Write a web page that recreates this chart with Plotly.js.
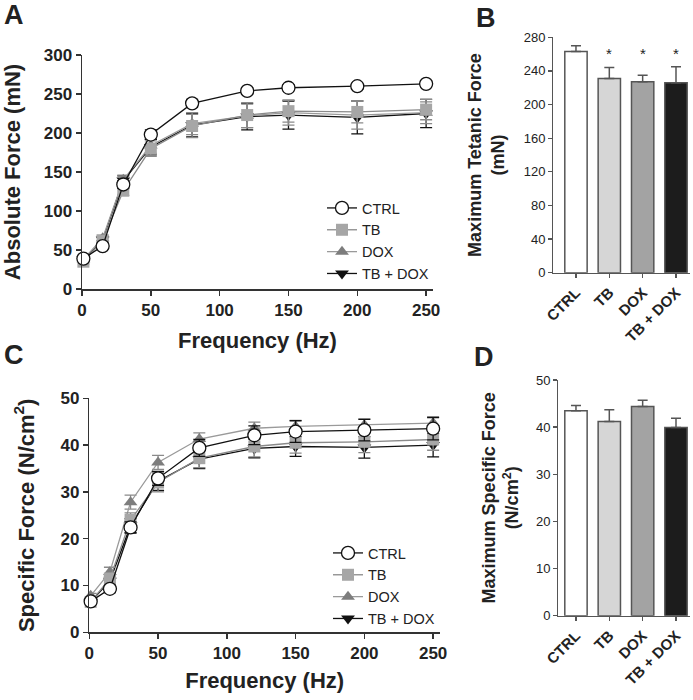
<!DOCTYPE html>
<html>
<head>
<meta charset="utf-8">
<script src="https://cdn.plot.ly/plotly-3.0.1.min.js"></script>
<style>html,body{margin:0;padding:0;background:#fff}#chart{width:693px;height:700px}</style>
</head>
<body>
<div id="chart"></div>
<script>
// ---- Data ----
const freq = [1, 15, 30, 50, 80, 120, 150, 200, 250];
const groupNames = ["CTRL", "TB", "DOX", "TB + DOX"];

// Panel A: absolute force (mN)
const ctrlAbs  = [39, 55, 134, 198, 238, 254, 258, 260, 263];
const tbAbs    = [35, 62, 126, 180, 209, 223, 228, 227, 230];
const doxAbs   = [38, 65, 140, 184, 212, 222, 226, 223, 226];
const tbdoxAbs = [38, 63, 139, 182, 210, 221, 223, 220, 225];
const ctrlAbsErr  = [3, 3, 5, 6, 5, 4, 4, 4, 4];
const tbAbsErr    = [3, 4, 6, 10, 15, 16, 14, 14, 13];
const doxAbsErr   = [3, 4, 6, 10, 14, 15, 16, 18, 14];
const tbdoxAbsErr = [3, 4, 6, 10, 15, 17, 18, 21, 18];

// Panel C: specific force (N/cm2)
const ctrlSpec  = [6.6, 9.3, 22.4, 32.9, 39.4, 42.1, 42.9, 43.2, 43.5];
const tbSpec    = [6.5, 11.5, 24.0, 32.0, 37.2, 39.7, 40.5, 40.7, 41.2];
const doxSpec   = [7.8, 12.9, 27.8, 36.3, 41.3, 43.6, 44.0, 44.3, 44.7];
const tbdoxSpec = [6.5, 11.0, 22.8, 32.3, 37.0, 39.3, 39.7, 39.5, 40.0];
const ctrlSpecErr  = [0.5, 0.8, 1.2, 1.5, 1.8, 2.0, 2.3, 2.3, 2.4];
const tbSpecErr    = [0.5, 1.0, 1.5, 2.0, 2.0, 2.2, 2.2, 2.3, 2.3];
const doxSpecErr   = [0.5, 1.0, 1.5, 1.5, 1.3, 1.3, 1.3, 1.3, 1.3];
const tbdoxSpecErr = [0.5, 1.0, 1.5, 2.0, 2.0, 2.0, 2.1, 2.3, 2.5];

// Panel B: maximum tetanic force (mN)
const maxTet    = [263, 231, 227, 226];
const maxTetErr = [7, 13, 8, 19];
const sigMark   = ["", "*", "*", "*"];

// Panel D: maximum specific force (N/cm2)
const maxSpec    = [43.5, 41.2, 44.4, 39.9];
const maxSpecErr = [1.1, 2.5, 1.3, 2.0];

// ---- Styles ----
const W = 693, H = 700;
const px = v => v / W;
const py = v => 1 - v / H;
const FONT = "Liberation Sans, Arial, sans-serif";
const INK = "#222";

const styles = [
  {name: "CTRL", line: "#111", marker: {symbol: "circle", size: 13, color: "#fff", line: {color: "#111", width: 1.3}}, err: "#111", rank: 1},
  {name: "TB", line: "#8a8a8a", marker: {symbol: "square", size: 12, color: "#a6a6a6", line: {width: 0}}, err: "#8a8a8a", rank: 2},
  {name: "DOX", line: "#9a9a9a", marker: {symbol: "triangle-up", size: 12, color: "#7d7d7d", line: {width: 0}}, err: "#8a8a8a", rank: 3},
  {name: "TB + DOX", line: "#111", marker: {symbol: "triangle-down", size: 12, color: "#111", line: {width: 0}}, err: "#111", rank: 4}
];

function lineTraces(ys, errs, xa, ya, legendId) {
  const out = [];
  // draw in reverse so CTRL is on top
  for (let i = 3; i >= 0; i--) {
    const s = styles[i];
    out.push({
      type: "scatter", mode: "lines+markers",
      x: freq, y: ys[i], name: s.name,
      xaxis: xa, yaxis: ya, legend: legendId, legendrank: s.rank,
      line: {color: s.line, width: 1.3},
      marker: s.marker,
      error_y: {type: "data", array: errs[i], visible: true, color: s.err, thickness: 1.3, width: 6},
      cliponaxis: false
    });
  }
  return out;
}

const barColors = ["#ffffff", "#d6d6d6", "#a3a3a3", "#1c1c1c"];

const data = [
  ...lineTraces([ctrlAbs, tbAbs, doxAbs, tbdoxAbs], [ctrlAbsErr, tbAbsErr, doxAbsErr, tbdoxAbsErr], "x", "y", "legend"),
  {
    type: "bar", x: groupNames, y: maxTet, xaxis: "x2", yaxis: "y2", showlegend: false,
    width: 0.67,
    marker: {color: barColors, line: {color: "#555", width: 1.5}},
    error_y: {type: "data", symmetric: false, array: maxTetErr, arrayminus: [0,0,0,0], color: "#555", thickness: 1.5, width: 5}
  },
  ...lineTraces([ctrlSpec, tbSpec, doxSpec, tbdoxSpec], [ctrlSpecErr, tbSpecErr, doxSpecErr, tbdoxSpecErr], "x3", "y3", "legend2"),
  {
    type: "bar", x: groupNames, y: maxSpec, xaxis: "x4", yaxis: "y4", showlegend: false,
    width: 0.67,
    marker: {color: barColors, line: {color: "#555", width: 1.5}},
    error_y: {type: "data", symmetric: false, array: maxSpecErr, arrayminus: [0,0,0,0], color: "#555", thickness: 1.5, width: 5}
  }
];

const boldTick = {family: FONT, size: 17, color: INK, weight: "bold"};
const lineAxisCommon = {
  showgrid: false, zeroline: false, showline: true, linecolor: "#333", linewidth: 1.5,
  ticks: "outside", ticklen: 5, tickwidth: 1.5, tickcolor: "#333", tickfont: boldTick
};
const barAxisCommon = {
  showgrid: false, zeroline: false, showline: true, linecolor: "#555", linewidth: 1.3,
  ticks: "outside", ticklen: 4, tickwidth: 1.3, tickcolor: "#555"
};
const bigTitle = {family: FONT, size: 22, weight: "bold", color: INK};
const barTitle = {family: FONT, size: 18, weight: "bold", color: INK};
const catFont = {family: FONT, size: 15, weight: "bold", color: INK};
const numFont = {family: FONT, size: 13, color: INK};
const letterFont = {family: FONT, size: 27, weight: "bold", color: INK};

const layout = {
  width: W, height: H,
  margin: {l: 0, r: 0, t: 0, b: 0},
  paper_bgcolor: "#fff", plot_bgcolor: "rgba(0,0,0,0)",
  font: {family: FONT, color: INK},
  showlegend: true,
  // Panel A
  xaxis: Object.assign({}, lineAxisCommon, {
    domain: [px(82), px(433)], range: [0, 255], anchor: "y",
    tickvals: [0, 50, 100, 150, 200, 250],
    title: {text: "Frequency (Hz)", font: bigTitle, standoff: 13}
  }),
  yaxis: Object.assign({}, lineAxisCommon, {
    domain: [py(289), py(55)], range: [0, 300], anchor: "x",
    tickvals: [0, 50, 100, 150, 200, 250, 300],
    title: {text: "Absolute Force (mN)", font: bigTitle, standoff: 20}
  }),
  // Panel B
  xaxis2: Object.assign({}, barAxisCommon, {
    domain: [px(553.3), px(690)], range: [-0.68, 3.42], anchor: "y2",
    tickangle: -45, tickfont: catFont
  }),
  yaxis2: Object.assign({}, barAxisCommon, {
    domain: [py(272.7), py(37.3)], range: [0, 280], anchor: "x2",
    tickvals: [0, 40, 80, 120, 160, 200, 240, 280],
    tickfont: numFont,
    title: {text: "Maximum Tetanic Force<br>(mN)", font: barTitle, standoff: 14}
  }),
  // Panel C
  xaxis3: Object.assign({}, lineAxisCommon, {
    domain: [px(89.3), px(440)], range: [0, 255], anchor: "y3",
    tickvals: [0, 50, 100, 150, 200, 250],
    title: {text: "Frequency (Hz)", font: bigTitle, standoff: 10}
  }),
  yaxis3: Object.assign({}, lineAxisCommon, {
    domain: [py(632.3), py(398.3)], range: [0, 50], anchor: "x3",
    tickvals: [0, 10, 20, 30, 40, 50],
    title: {text: "Specific Force (N/cm<sup>2</sup>)", font: bigTitle, standoff: 20}
  }),
  // Panel D
  xaxis4: Object.assign({}, barAxisCommon, {
    domain: [px(558.3), px(690)], range: [-0.53, 3.42], anchor: "y4",
    tickangle: -45, tickfont: catFont
  }),
  yaxis4: Object.assign({}, barAxisCommon, {
    domain: [py(615.7), py(380)], range: [0, 50], anchor: "x4",
    tickvals: [0, 10, 20, 30, 40, 50],
    tickfont: numFont,
    title: {text: "Maximum Specific Force<br>(N/cm<sup>2</sup>)", font: barTitle, standoff: 12}
  }),
  legend: {
    x: px(322), y: py(192), xanchor: "left", yanchor: "top",
    bgcolor: "rgba(0,0,0,0)", font: {family: FONT, size: 14.5, color: INK},
    tracegroupgap: 0, itemwidth: 30
  },
  legend2: {
    x: px(328), y: py(537), xanchor: "left", yanchor: "top",
    bgcolor: "rgba(0,0,0,0)", font: {family: FONT, size: 14.5, color: INK},
    tracegroupgap: 0, itemwidth: 30
  },
  annotations: [
    {text: "A", xref: "paper", yref: "paper", x: px(14), y: py(15), xanchor: "center", yanchor: "middle", showarrow: false, font: letterFont},
    {text: "B", xref: "paper", yref: "paper", x: px(486), y: py(18), xanchor: "center", yanchor: "middle", showarrow: false, font: letterFont},
    {text: "C", xref: "paper", yref: "paper", x: px(14), y: py(355), xanchor: "center", yanchor: "middle", showarrow: false, font: letterFont},
    {text: "D", xref: "paper", yref: "paper", x: px(484), y: py(357), xanchor: "center", yanchor: "middle", showarrow: false, font: letterFont},
    ...groupNames.map((g, i) => ({
      text: sigMark[i], xref: "x2", yref: "y2", x: g, y: 261,
      xanchor: "center", yanchor: "middle", showarrow: false, font: {family: FONT, size: 15, color: INK}
    })).filter(a => a.text !== "")
  ]
};

Plotly.newPlot("chart", data, layout, {displayModeBar: false, staticPlot: true});
</script>
</body>
</html>
